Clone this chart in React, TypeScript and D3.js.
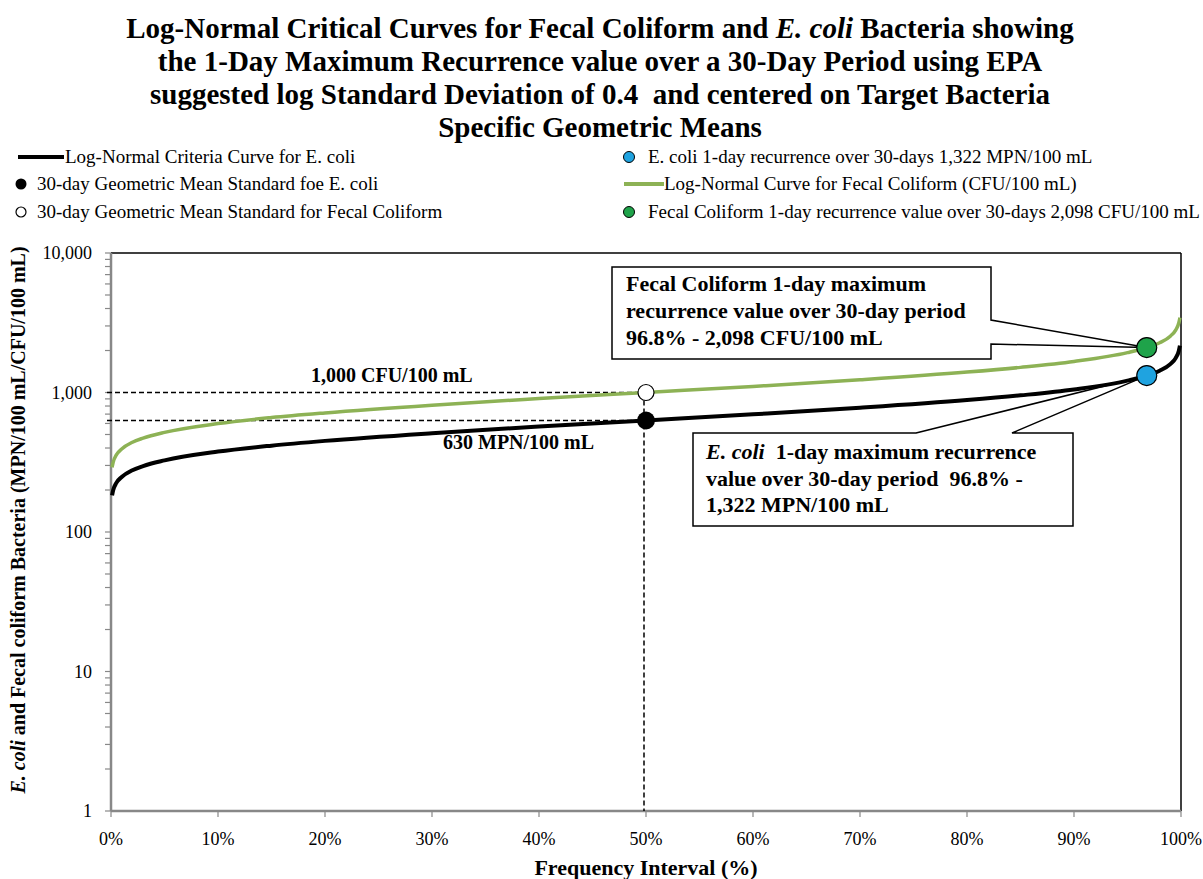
import * as d3 from "d3";

// frequency interval (%) where the curves were read
const freqPct = [0.1, 0.2, 0.5, 1, 2, 3, 5, 10, 15, 20, 30, 40, 50, 60, 70, 80, 85, 90, 95, 96.8, 98, 99, 99.5, 99.8, 99.9];
// E. coli log-normal curve (MPN/100 mL)
const ecoliCurve = [183, 199, 225, 248, 277, 297, 326, 377, 416, 450, 511, 570, 630, 697, 777, 882, 954, 1051, 1217, 1322, 1432, 1597, 1765, 1993, 2168];
// Fecal coliform log-normal curve (CFU/100 mL)
const fecalCurve = [291, 316, 357, 394, 440, 471, 518, 599, 661, 714, 811, 904, 1000, 1106, 1233, 1400, 1514, 1669, 1931, 2098, 2273, 2535, 2802, 3163, 3440];

const gmFreq = 50;
const ecoliGM = 630;
const fecalGM = 1000;
const recurFreq = 96.8;
const ecoliMax = 1322;
const fecalMax = 2098;

const xTicks = [0, 10, 20, 30, 40, 50, 60, 70, 80, 90, 100];
const yTicks = [1, 10, 100, 1000, 10000];

const titleLines = [
  "the 1-Day Maximum Recurrence value over a 30-Day Period using EPA",
  "suggested log Standard Deviation of 0.4  and centered on Target Bacteria",
  "Specific Geometric Means",
];

const FONT = "Liberation Serif, Times New Roman, DejaVu Serif, serif";
const GREEN = "#8DB255";

export default function App() {
  const left = 111, right = 1181, top = 253, bottom = 811;
  const x = d3.scaleLinear().domain([0, 100]).range([left, right]);
  const y = d3.scaleLog().domain([1, 10000]).range([bottom, top]);

  const line = d3.line<number>()
    .x((d, i) => x(freqPct[i]))
    .y((d) => y(d))
    .curve(d3.curveMonotoneX);

  // minor log ticks
  const minor: number[] = [];
  for (let p = 1; p < 10000; p *= 10) {
    for (let k = 2; k <= 9; k++) minor.push(p * k);
  }

  const fmt = d3.format(",");

  const fx = x(recurFreq), fy = y(fecalMax), ey = y(ecoliMax);
  const gx = x(gmFreq);

  return (
    <>
      <style>{`body{margin:0}`}</style>
      <svg width={1203} height={879} fontFamily={FONT} style={{ display: "block" }}>
        <rect width={1203} height={879} fill="white" />

        {/* title */}
        <g textAnchor="middle" fontWeight="bold" fontSize={29}>
          <text x={600} y={38}>
            Log-Normal Critical Curves for Fecal Coliform and <tspan fontStyle="italic">E. coli</tspan> Bacteria showing
          </text>
          {titleLines.map((t, i) => (
            <text key={i} x={600} y={71 + i * 33} style={{ whiteSpace: "pre" }}>{t}</text>
          ))}
        </g>

        {/* legend */}
        <g fontSize={19}>
          <line x1={18} x2={64} y1={157} y2={157} stroke="black" strokeWidth={4} />
          <text x={65} y={163}>Log-Normal Criteria Curve for E. coli</text>
          <circle cx={21} cy={184} r={5.5} fill="black" />
          <text x={37} y={190}>30-day Geometric Mean Standard foe E. coli</text>
          <circle cx={21} cy={212} r={5} fill="white" stroke="black" strokeWidth={1.2} />
          <text x={37} y={218}>30-day Geometric Mean Standard for Fecal Coliform</text>

          <circle cx={629} cy={157} r={5.5} fill="#1FA3E0" stroke="black" strokeWidth={1} />
          <text x={648} y={163}>E. coli 1-day recurrence over 30-days 1,322 MPN/100 mL</text>
          <line x1={624} x2={664} y1={184} y2={184} stroke={GREEN} strokeWidth={4} />
          <text x={664} y={190}>Log-Normal Curve for Fecal Coliform (CFU/100 mL)</text>
          <circle cx={629} cy={212} r={5.5} fill="#1FA34A" stroke="black" strokeWidth={1} />
          <text x={648} y={218}>Fecal Coliform 1-day recurrence value over 30-days 2,098 CFU/100 mL</text>
        </g>

        {/* frame */}
        <line x1={left} x2={right} y1={top} y2={top} stroke="black" strokeWidth={1.5} />
        <line x1={right} x2={right} y1={top} y2={bottom} stroke="black" strokeWidth={1.5} />

        {/* axis ticks */}
        <g stroke="#888" strokeWidth={1.2}>
          {minor.map((v) => (
            <line key={"m" + v} x1={left - 6} x2={left} y1={y(v)} y2={y(v)} />
          ))}
          {yTicks.map((v) => (
            <line key={"t" + v} x1={left - 6} x2={left} y1={y(v)} y2={y(v)} />
          ))}
          {xTicks.map((v) => (
            <line key={"x" + v} x1={x(v)} x2={x(v)} y1={bottom} y2={bottom + 6} />
          ))}
        </g>
        <line x1={left} x2={left} y1={top} y2={bottom} stroke="#888" strokeWidth={2.5} />
        <line x1={left} x2={right} y1={bottom} y2={bottom} stroke="#888" strokeWidth={2.5} />

        <g fontSize={18} textAnchor="end">
          {yTicks.map((v) => (
            <text key={v} x={92} y={y(v)} dy="0.35em">{fmt(v)}</text>
          ))}
        </g>
        <g fontSize={18} textAnchor="middle">
          {xTicks.map((v) => (
            <text key={v} x={x(v)} y={845}>{v}%</text>
          ))}
        </g>

        <text x={646} y={875} textAnchor="middle" fontWeight="bold" fontSize={22}>Frequency Interval (%)</text>
        <text transform="translate(25,520) rotate(-90)" textAnchor="middle" fontWeight="bold" fontSize={20}>
          <tspan fontStyle="italic">E. coli</tspan> and Fecal coliform Bacteria (MPN/100 mL/CFU/100 mL)
        </text>

        {/* reference dashed lines */}
        <g stroke="black" strokeWidth={1.5} strokeDasharray="5,3" fill="none">
          <line x1={left - 4} x2={gx} y1={y(fecalGM)} y2={y(fecalGM)} />
          <line x1={left - 4} x2={gx} y1={y(ecoliGM)} y2={y(ecoliGM)} />
          <line x1={gx - 2} x2={gx - 2} y1={y(fecalGM)} y2={bottom} />
        </g>
        <text x={311} y={382} fontWeight="bold" fontSize={20}>1,000 CFU/100 mL</text>
        <text x={443} y={449} fontWeight="bold" fontSize={20}>630 MPN/100 mL</text>

        {/* callouts */}
        <path
          d={`M612,267 H991 V320 L${fx},${fy} L991,344 V359 H612 Z`}
          fill="white" stroke="black" strokeWidth={1.5}
        />
        <g fontWeight="bold" fontSize={22}>
          <text x={626} y={291}>Fecal Coliform 1-day maximum</text>
          <text x={626} y={318}>recurrence value over 30-day period</text>
          <text x={626} y={345}>96.8% - 2,098 CFU/100 mL</text>
        </g>
        <path
          d={`M693,433 H916 L${fx},${ey} L1012,433 H1073 V526 H693 Z`}
          fill="white" stroke="black" strokeWidth={1.5}
        />
        <g fontWeight="bold" fontSize={22}>
          <text x={706} y={459} style={{ whiteSpace: "pre" }}>
            <tspan fontStyle="italic">E. coli</tspan>  1-day maximum recurrence
          </text>
          <text x={706} y={486} style={{ whiteSpace: "pre" }}>value over 30-day period  96.8% -</text>
          <text x={706} y={512}>1,322 MPN/100 mL</text>
        </g>

        {/* curves */}
        <path d={line(fecalCurve) || ""} fill="none" stroke={GREEN} strokeWidth={3.5} />
        <path d={line(ecoliCurve) || ""} fill="none" stroke="black" strokeWidth={4} />

        {/* markers */}
        <circle cx={gx} cy={y(fecalGM)} r={8} fill="white" stroke="black" strokeWidth={1.2} />
        <circle cx={gx} cy={y(ecoliGM)} r={9} fill="black" />
        <circle cx={fx} cy={fy} r={10} fill="#1FA34A" stroke="black" strokeWidth={1.2} />
        <circle cx={fx} cy={ey} r={10} fill="#1FA3E0" stroke="black" strokeWidth={1.2} />
      </svg>
    </>
  );
}
